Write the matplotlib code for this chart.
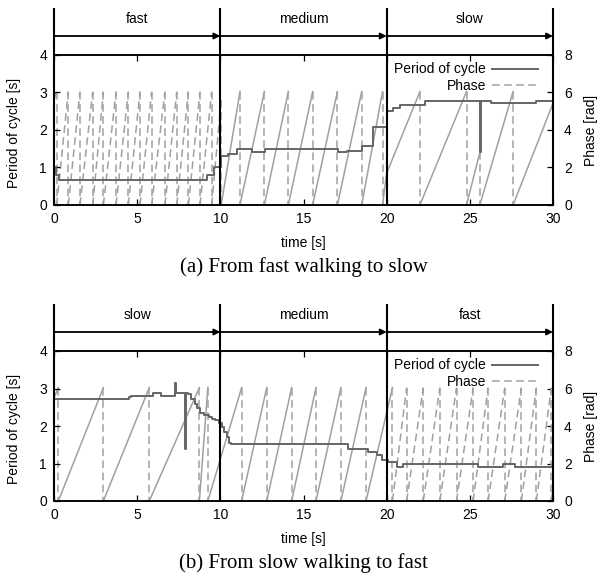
import matplotlib
matplotlib.use("Agg")
import matplotlib.pyplot as plt
from matplotlib.lines import Line2D

plt.rcParams['font.family'] = ['Liberation Sans', 'DejaVu Sans']
plt.rcParams['font.size'] = 10
plt.rcParams['lines.scale_dashes'] = False

T_END = 30.0
SECTION_EDGES = [0, 10, 20, 30]
PERIOD_COLOR = '#656565'
PHASE_COLOR = '#a0a0a0'
DASH = (0, (5.5, 3.2))

# ---------------- (a) fast -> medium -> slow ----------------
a_sections = ["fast", "medium", "slow"]
a_period_t = [0.0, 0.15, 0.3, 9.2, 9.6, 10.05, 10.47, 10.98, 11.88, 12.68,
              17.1, 17.6, 18.5, 19.2, 20.0, 20.4, 20.8, 22.3, 25.6, 25.65,
              26.3, 29.0, 30.0]
a_period_v = [1.0, 0.8, 0.67, 0.8, 1.0, 1.31, 1.36, 1.49, 1.40, 1.49,
              1.40, 1.45, 1.57, 2.09, 2.51, 2.58, 2.67, 2.78, 1.40, 2.78,
              2.71, 2.78, 2.78]
a_phase_start = 5.6
a_phase_resets = [0.16, 0.86, 1.56, 2.33, 2.97, 3.73, 4.47, 5.17, 5.87, 6.67,
                  7.38, 8.08, 8.78, 9.48, 10.05, 11.18, 12.65, 14.09, 15.55,
                  17.04, 18.5, 19.75, 22.0, 24.8, 25.6, 27.6]
a_phase_peaks = [6.05, 6.05, 6.05, 6.05, 6.05, 6.05, 6.05, 6.05, 6.05, 6.05,
                 6.05, 6.05, 6.05, 6.05, 5.6, 6.05, 6.05, 6.05, 6.05,
                 6.05, 6.05, 6.05, 6.05, 6.05, 2.8, 6.05]
a_phase_knot_t = [20.0]
a_phase_knot_v = [1.7]
a_phase_end = 5.42

# ---------------- (b) slow -> medium -> fast ----------------
b_sections = ["slow", "medium", "fast"]
b_period_t = [0.0, 4.5, 4.6, 5.95, 6.45, 7.25, 7.3, 7.36, 7.88, 7.93,
              8.05, 8.25, 8.45, 8.6, 8.8, 9.0, 9.3, 9.5, 9.7, 9.9,
              10.1, 10.25, 10.4, 10.55, 10.65, 17.7, 18.9, 19.4, 19.7, 20.1,
              20.6, 21.0, 25.5, 27.0, 27.7, 30.0]
b_period_v = [2.72, 2.78, 2.81, 2.88, 2.81, 2.89, 3.14, 2.89, 1.40, 2.89,
              2.85, 2.72, 2.6, 2.48, 2.36, 2.3, 2.25, 2.2, 2.15, 2.08,
              1.97, 1.85, 1.7, 1.56, 1.51, 1.40, 1.31, 1.23, 1.09, 1.03,
              0.92, 1.0, 0.9, 1.0, 0.92, 0.92]
b_phase_start = 5.5
b_phase_resets = [0.26, 2.97, 5.73, 8.74, 9.25, 11.28, 12.79, 14.29, 15.75,
                  17.25, 18.76, 20.35, 21.2, 22.2, 23.2, 24.2, 25.2, 26.1,
                  27.1, 28.1, 29.0, 29.9]
b_phase_peaks = [6.05, 6.05, 6.05, 6.05, 6.05, 6.05, 6.05, 6.05, 6.05,
                 6.05, 6.05, 6.05, 6.05, 6.05, 6.05, 6.05, 6.05, 6.05,
                 6.05, 6.05, 6.05, 6.05]
b_phase_knot_t = []
b_phase_knot_v = []
b_phase_end = 0.67

x_ticks = [0, 5, 10, 15, 20, 25, 30]
period_ticks = [0, 1, 2, 3, 4]
phase_ticks = [0, 2, 4, 6, 8]

W, H = 598, 575
fig = plt.figure(figsize=(W / 100, H / 100), dpi=100)

PX_PER_UNIT = 150 / 4.0   # vertical pixels per second on the period axis


def section_of(t, sections):
    for i in range(3):
        if SECTION_EDGES[i] <= t <= SECTION_EDGES[i + 1]:
            return sections[i]
    return sections[-1]


def draw_panel(rect, sections, pt, pv, ph_start, resets, peaks, knot_t, knot_v,
               ph_end, caption):
    ax = fig.add_axes(rect)
    ax2 = ax.twinx()
    ax.set_zorder(ax2.get_zorder() + 1)
    ax.patch.set_visible(False)

    ax.set_xlim(0, T_END)
    ax.set_ylim(0, 4)
    ax2.set_ylim(0, 8)

    # phase: ramps between resets, dashed drop at each reset
    prev_t, prev_v = 0.0, ph_start
    ramps = []
    for r, p in zip(resets + [T_END], peaks + [ph_end]):
        xs, ys = [prev_t], [prev_v]
        for kt, kv in zip(knot_t, knot_v):
            if prev_t < kt < r:
                xs.append(kt)
                ys.append(kv)
        xs.append(r)
        ys.append(p)
        ramps.append((xs, ys))
        if r < T_END:
            ax2.plot([r, r], [p, 0], color=PHASE_COLOR, lw=1.1, linestyle=DASH)
        prev_t, prev_v = r, 0.0
    for xs, ys in ramps:
        fast = section_of(0.5 * (xs[0] + xs[-1]), sections) == "fast"
        ax2.plot(xs, ys, color=PHASE_COLOR, lw=1.1,
                 linestyle=DASH if fast else '-')

    # period of cycle
    ax.plot(pt, pv, drawstyle='steps-post', color=PERIOD_COLOR, lw=1.4)

    # header with section names and arrows
    top = 4 + 47 / PX_PER_UNIT
    arrow_y = 4 + 19 / PX_PER_UNIT
    text_y = 4 + 36 / PX_PER_UNIT
    for x in SECTION_EDGES:
        ax.plot([x, x], [0, top], color='black', lw=1.5, clip_on=False,
                solid_capstyle='butt', zorder=5)
    for i, name in enumerate(sections):
        x0, x1 = SECTION_EDGES[i], SECTION_EDGES[i + 1]
        ax.annotate('', xy=(x1, arrow_y), xytext=(x0, arrow_y),
                    annotation_clip=False,
                    arrowprops=dict(arrowstyle='-|>', color='black', lw=1.3,
                                    shrinkA=0, shrinkB=0, mutation_scale=9))
        ax.text(0.5 * (x0 + x1), text_y, name, ha='center', va='center',
                fontsize=10)

    for a in (ax, ax2):
        a.spines['left'].set_visible(False)
        a.spines['right'].set_visible(False)
        a.spines['top'].set_linewidth(1.1)
        a.spines['bottom'].set_linewidth(1.1)

    ax.set_xticks(x_ticks)
    ax.set_yticks(period_ticks)
    ax2.set_yticks(phase_ticks)
    ax.tick_params(axis='x', direction='in', length=4, width=0.9, top=True,
                   pad=5, labelsize=10)
    ax.tick_params(axis='y', direction='in', length=4, width=0.9, right=False,
                   pad=5, labelsize=10)
    ax2.tick_params(axis='y', direction='in', length=4, width=0.9, pad=8,
                    labelsize=10)

    ax.set_xlabel('time [s]', fontsize=10)
    ax.xaxis.set_label_coords(0.5, -0.205)
    ax.set_ylabel('Period of cycle [s]', fontsize=10)
    ax.yaxis.set_label_coords(-0.066, 0.48)
    ax2.set_ylabel('Phase [rad]', fontsize=10, rotation=90)
    ax2.yaxis.set_label_coords(1.062, 0.5)

    handles = [Line2D([], [], color=PERIOD_COLOR, lw=1.4),
               Line2D([], [], color=PHASE_COLOR, lw=1.1, linestyle=DASH)]
    ax.legend(handles, ['Period of cycle', 'Phase'], loc='upper right',
              bbox_to_anchor=(0.97, 0.95), frameon=False, markerfirst=False,
              borderaxespad=0, borderpad=0, handlelength=3.3,
              handletextpad=0.45, labelspacing=0.15, fontsize=10)

    fig.text(rect[0] + rect[2] / 2, rect[1] - 62.5 / H, caption,
             ha='center', va='center', fontsize=15,
             family=['Liberation Serif', 'DejaVu Serif'])
    return ax


left = 54 / W
width = 499 / W
height = 150 / H
draw_panel([left, 1 - 205 / H, width, height], a_sections, a_period_t, a_period_v,
           a_phase_start, a_phase_resets, a_phase_peaks, a_phase_knot_t,
           a_phase_knot_v, a_phase_end, '(a) From fast walking to slow')
draw_panel([left, 1 - 501 / H, width, height], b_sections, b_period_t, b_period_v,
           b_phase_start, b_phase_resets, b_phase_peaks, b_phase_knot_t,
           b_phase_knot_v, b_phase_end, '(b) From slow walking to fast')

fig.savefig('out.png', dpi=100)
